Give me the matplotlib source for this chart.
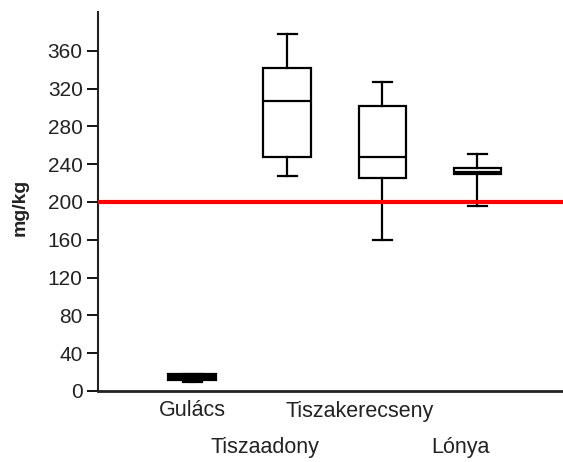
import matplotlib
matplotlib.use("Agg")
import matplotlib.pyplot as plt
import matplotlib.transforms as mtransforms

plt.rcParams['font.family'] = ['Liberation Sans', 'DejaVu Sans']

categories = ["Gulács", "Tiszaadony", "Tiszakerecseny", "Lónya"]
whislo = [9, 227, 160, 196]
q1 = [12, 248, 225, 230]
med = [15, 307, 248, 232]
q3 = [18, 342, 302, 236]
whishi = [18, 378, 327, 251]
limit_value = 200
yticks = [0, 40, 80, 120, 160, 200, 240, 280, 320, 360]

positions = [1, 2, 3, 4]
stats = []
for name, lo, a, m, b, hi in zip(categories, whislo, q1, med, q3, whishi):
    stats.append(dict(label=name, whislo=lo, q1=a, med=m, q3=b, whishi=hi, fliers=[]))

fig = plt.figure(figsize=(5.63, 4.62), dpi=100)
ax = fig.add_axes([0.174, 0.1537, 0.826, 0.8203])

lw = 1.6
res = ax.bxp(stats, positions=positions, widths=0.5, capwidths=0.2, showfliers=False,
             patch_artist=True,
             boxprops=dict(edgecolor='black', facecolor='white', linewidth=lw),
             whiskerprops=dict(color='black', linewidth=lw),
             capprops=dict(color='black', linewidth=lw),
             medianprops=dict(color='black', linewidth=lw),
             zorder=3)
# the tiny Gulács box renders as a solid dark blob in the reference
res['boxes'][0].set_facecolor('black')

ax.axhline(limit_value, color='#ff0000', linewidth=3, zorder=4)

ax.set_xlim(0.01, 4.9)
ax.set_ylim(0, 401)
ax.set_yticks(yticks)
ax.set_yticklabels([str(v) for v in yticks], fontsize=15, color='#222222')
ax.tick_params(axis='y', length=8, width=1.3, direction='out', pad=3)
ax.set_xticks([])
for s in ['top', 'right']:
    ax.spines[s].set_visible(False)
ax.spines['left'].set_linewidth(1.5)
ax.spines['bottom'].set_linewidth(2)
ax.spines['left'].set_color('#222222')
ax.spines['bottom'].set_color('#222222')

ax.set_ylabel("mg/kg", fontsize=14, fontweight='bold', color='#222222')
ax.yaxis.set_label_coords(-0.15, 0.484)

# staggered category labels
trans = mtransforms.blended_transform_factory(ax.transData, fig.transFigure)
label_x = [1.0, 1.77, 2.76, 3.82]
label_y = [0.100, 0.0195, 0.097, 0.0195]
for name, lx, ly in zip(categories, label_x, label_y):
    ax.text(lx, ly, name, transform=trans, ha='center', va='baseline', fontsize=15.5,
            color='#222222')

fig.savefig("out.png", dpi=100)
